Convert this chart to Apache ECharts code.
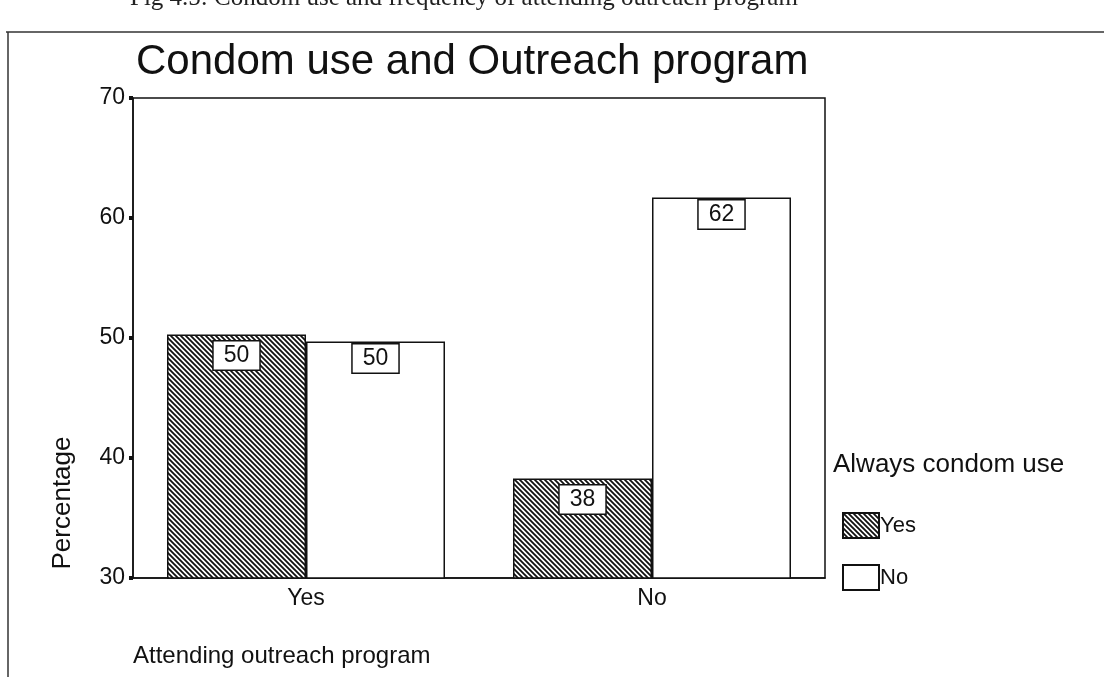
<!DOCTYPE html>
<html>
<head>
<meta charset="utf-8">
<script src="https://cdn.jsdelivr.net/npm/echarts@6/dist/echarts.min.js"></script>
<style>
  html, body { margin: 0; padding: 0; background: #fff; }
  #chart { width: 1104px; height: 677px; }
</style>
</head>
<body>
<div id="chart"></div>
<script>
// attending outreach program (x) by always condom use (series)
const categories = ['Yes', 'No']
const yesValues = [50.3, 38.3]
const noValues = [49.7, 61.7]
const seriesNames = ['Yes', 'No']
const yTicks = [30, 40, 50, 60, 70]

// diagonal hatch like the scanned SPSS fill
function makeHatch() {
  const c = document.createElement('canvas')
  c.width = 5
  c.height = 5
  const ctx = c.getContext('2d')
  ctx.fillStyle = '#fff'
  ctx.fillRect(0, 0, 5, 5)
  ctx.strokeStyle = '#111'
  ctx.lineWidth = 1.8
  ctx.beginPath()
  ctx.moveTo(-1, -1); ctx.lineTo(6, 6)
  ctx.moveTo(-1, 4); ctx.lineTo(1, 6)
  ctx.moveTo(4, -1); ctx.lineTo(6, 1)
  ctx.stroke()
  return c
}

const font = 'Liberation Sans, Arial, sans-serif'
const labelBox = {
  show: true,
  position: 'insideTop',
  color: '#111',
  fontFamily: font,
  fontSize: 23,
  backgroundColor: '#fff',
  borderColor: '#111',
  borderWidth: 1.5,
  padding: [3, 10, 2, 10],
  formatter: p => Math.round(p.value)
}

const chart = echarts.init(document.getElementById('chart'))
chart.setOption({
  animation: false,
  backgroundColor: '#fff',
  title: {
    text: 'Condom use and Outreach program',
    left: 131,
    top: 36,
    textStyle: { fontFamily: font, fontSize: 42, fontWeight: 'normal', color: '#111' }
  },
  grid: {
    left: 133, top: 98, right: 279, bottom: 99,
    outerBoundsMode: 'none',
    containLabel: false,
    show: true, borderColor: '#111', borderWidth: 1.5
  },
  legend: {
    data: seriesNames,
    orient: 'vertical',
    left: 837,
    top: 507,
    icon: 'rect',
    itemWidth: 36,
    itemHeight: 25,
    itemGap: 25,
    textStyle: { fontFamily: font, fontSize: 22, color: '#111', padding: [0, 0, 0, -4] }
  },
  xAxis: {
    type: 'category',
    data: categories,
    axisLine: { lineStyle: { color: '#111', width: 1.5 } },
    axisTick: { alignWithLabel: true, length: 5, lineStyle: { color: '#111', width: 4 } },
    axisLabel: { fontFamily: font, fontSize: 23, color: '#111', margin: 9 }
  },
  yAxis: {
    type: 'value',
    min: yTicks[0],
    max: yTicks[yTicks.length - 1],
    interval: 10,
    axisLine: { show: true, lineStyle: { color: '#111', width: 1.5 } },
    axisTick: { show: true, length: 4, lineStyle: { color: '#111', width: 4 } },
    splitLine: { show: false },
    axisLabel: { fontFamily: font, fontSize: 23, color: '#111', margin: 8 }
  },
  series: [
    {
      name: seriesNames[0],
      type: 'bar',
      data: yesValues,
      barWidth: 139,
      barGap: '0%',
      itemStyle: { color: { image: makeHatch(), repeat: 'repeat' }, borderColor: '#111', borderWidth: 1.5 },
      label: Object.assign({}, labelBox, { distance: 7 })
    },
    {
      name: seriesNames[1],
      type: 'bar',
      data: noValues,
      barWidth: 139,
      itemStyle: { color: '#fff', borderColor: '#111', borderWidth: 1.5 },
      label: Object.assign({}, labelBox, { distance: 3 })
    }
  ],
  graphic: [
    { type: 'text', left: 130, top: -14,
      style: { text: 'Fig 4.5: Condom use and frequency of attending outreach program',
               font: '25px "Liberation Serif", "Times New Roman", serif', fill: '#222' } },
    { type: 'line', shape: { x1: 6, y1: 32, x2: 1104, y2: 32 }, style: { stroke: '#333', lineWidth: 1.5 } },
    { type: 'line', shape: { x1: 8, y1: 32, x2: 8, y2: 677 }, style: { stroke: '#333', lineWidth: 1.5 } },
    { type: 'text', x: 63, y: 503, rotation: Math.PI / 2,
      style: { text: 'Percentage', font: '26px "Liberation Sans", Arial, sans-serif', fill: '#111',
               align: 'center', verticalAlign: 'middle' } },
    { type: 'text', left: 833, top: 452,
      style: { text: 'Always condom use', font: '26px "Liberation Sans", Arial, sans-serif', fill: '#111' } },
    { type: 'text', left: 133, top: 644,
      style: { text: 'Attending outreach program', font: '24px "Liberation Sans", Arial, sans-serif', fill: '#111' } }
  ]
})
</script>
</body>
</html>
